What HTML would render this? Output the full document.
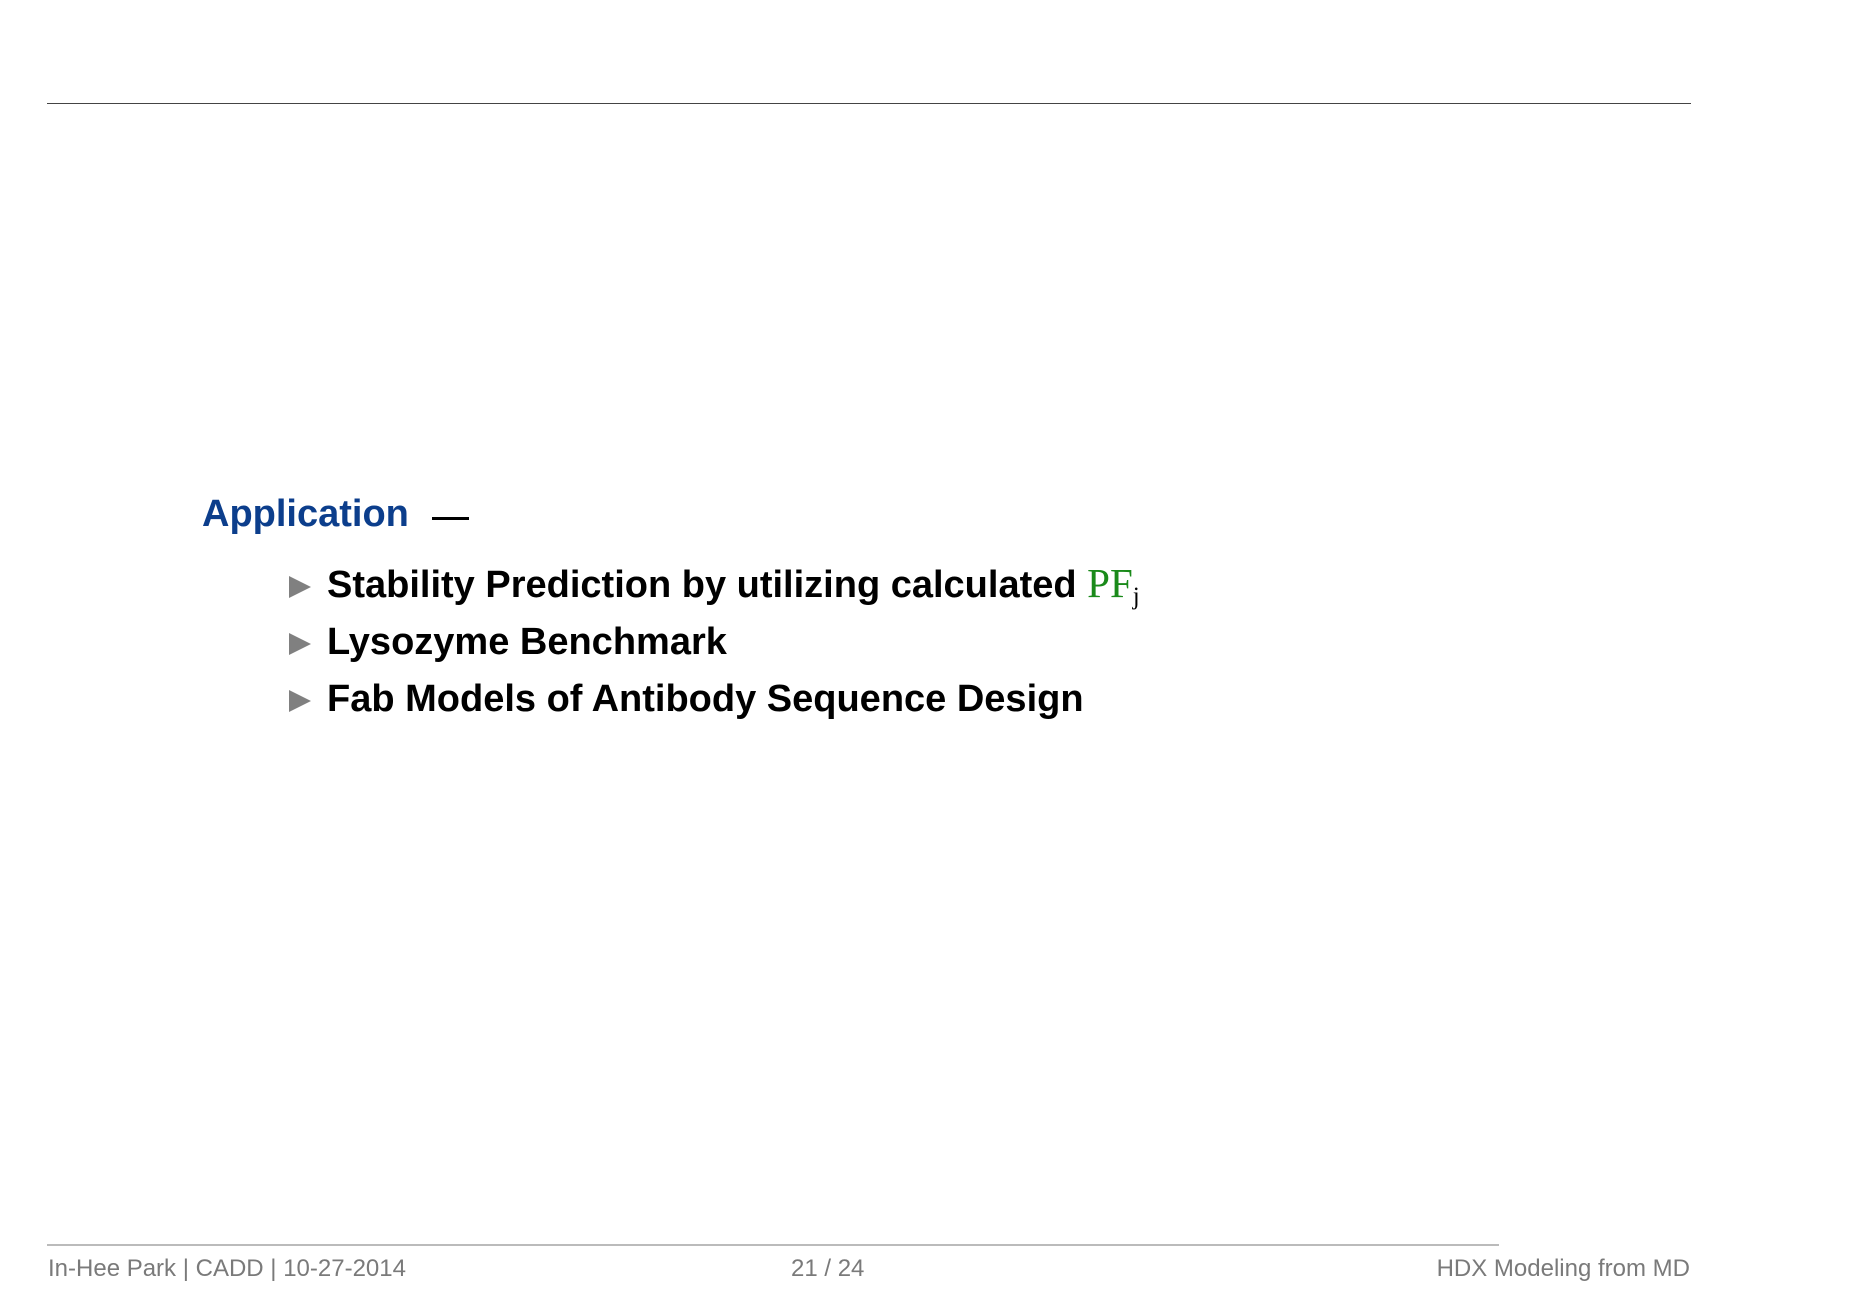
<!DOCTYPE html>
<html><head><meta charset="utf-8"><style>
body{margin:0;width:1854px;height:1308px;background:#fff;position:relative;overflow:hidden;font-family:"Liberation Sans",sans-serif}
.a{position:absolute;white-space:nowrap;line-height:1}
.it{font-weight:bold;font-size:38px;color:#000}
.tri{position:absolute;width:0;height:0;border-top:11px solid transparent;border-bottom:11px solid transparent;border-left:22px solid #808080}
.f{font-size:24px;color:#7a7a7a}
</style></head><body>
<div style="position:absolute;left:47px;top:103px;width:1644px;height:1px;background:#444"></div>
<div class="a" style="left:202px;top:495px;font-size:38px;font-weight:bold;color:#0c3e8c">Application</div>
<div style="position:absolute;left:432px;top:517px;width:37px;height:3px;background:#000"></div>

<div class="tri" style="left:289px;top:576px"></div>
<div class="a it" style="left:327px;top:566px">Stability Prediction by utilizing calculated <span style="font-family:'Liberation Serif',serif;font-weight:normal;color:#1a8a1a;font-size:41px;line-height:0">PF<sub style="font-size:25px;color:#000;vertical-align:-7px;line-height:0">j</sub></span></div>
<div class="tri" style="left:289px;top:633px"></div>
<div class="a it" style="left:327px;top:623px">Lysozyme Benchmark</div>
<div class="tri" style="left:289px;top:690px"></div>
<div class="a it" style="left:327px;top:680px">Fab Models of Antibody Sequence Design</div>

<div style="position:absolute;left:47px;top:1244px;width:1452px;height:2px;background:#bbb"></div>
<div class="a f" style="left:48px;top:1257px">In-Hee Park | CADD | 10-27-2014</div>
<div class="a f" style="left:791px;top:1257px">21 / 24</div>
<div class="a f" style="right:164px;top:1257px">HDX Modeling from MD</div>
</body></html>
